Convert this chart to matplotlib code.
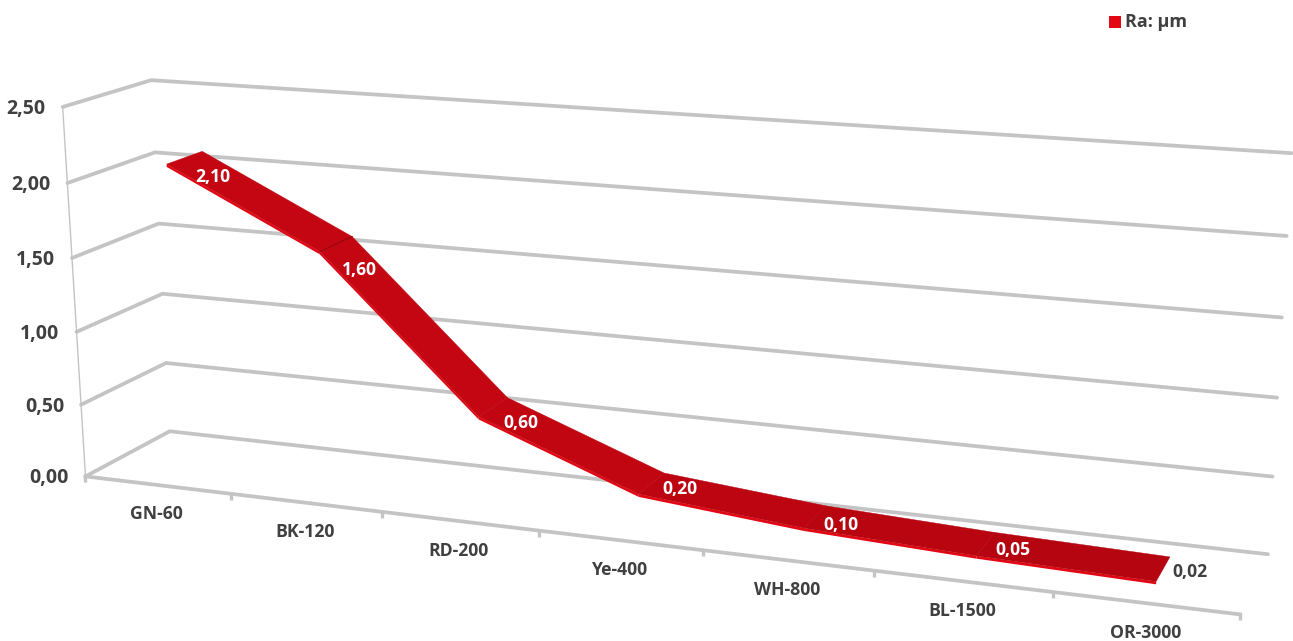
import numpy as np
import matplotlib
matplotlib.use("Agg")
from matplotlib import pyplot as plt

categories = ["GN-60", "BK-120", "RD-200", "Ye-400", "WH-800", "BL-1500", "OR-3000"]
ra_values = [2.10, 1.60, 0.60, 0.20, 0.10, 0.05, 0.02]
value_ticks = [0.0, 0.5, 1.0, 1.5, 2.0, 2.5]
legend_label = "Ra: µm"

W, H = 1293, 641
GRID = "#c4c4c4"
TEXT = "#404040"
RED = "#e30613"

# 3D box corners on screen: (category, value, depth) -> pixel
# depth 0 is the front of the floor, depth 1 the back wall
anchors = [
    ((0, 0, 0), (86, 475)), ((0, 2.5, 0), (63, 107)),
    ((0, 0, 1), (170, 431)), ((0, 2.5, 1), (151, 81)),
    ((0, 1, 0), (76, 330)), ((0, 1, 1), (162, 294)),
    ((7, 0, 0), (1240, 612)), ((7, 0, 1), (1268, 554)),
    ((7, 1, 1), (1277, 397)), ((7, 2, 1), (1287, 236)),
    ((3, 0, 0), (539, 534)), ((5, 0, 0), (874, 573)),
]


def fit_camera(pairs):
    rows, rhs = [], []
    for (c, v, d), (px, py) in pairs:
        rows.append([c, v, d, 1, 0, 0, 0, 0, -px * c, -px * v, -px * d])
        rhs.append(px)
        rows.append([0, 0, 0, 0, c, v, d, 1, -py * c, -py * v, -py * d])
        rhs.append(py)
    m = np.linalg.lstsq(np.array(rows, float), np.array(rhs, float), rcond=None)[0]
    return np.append(m, 1.0).reshape(3, 4)


CAM = fit_camera(anchors)


def project(c, v, d):
    c, v, d = np.broadcast_arrays(np.asarray(c, float), np.asarray(v, float), np.asarray(d, float))
    pts = CAM @ np.stack([c, v, d, np.ones_like(c)])
    return pts[0] / pts[2], pts[1] / pts[2]


plt.rcParams["font.family"] = ["Open Sans", "DejaVu Sans"]
fig = plt.figure(figsize=(W / 100, H / 100), dpi=100)
ax = fig.add_axes([0, 0, 1, 1])
ax.set_xlim(0, W)
ax.set_ylim(H, 0)
ax.axis("off")

# Walls: side wall then back wall for every value gridline
n = len(categories)
for v in value_ticks:
    xs, ys = project([0, 0, n], [v, v, v], [0, 1, 1])
    ax.plot(xs, ys, color=GRID, lw=2.7, solid_joinstyle="miter", solid_capstyle="round",
            zorder=1, clip_on=False)
    tx, ty = project(0, v, 0)
    ax.text(tx - 17, ty + 2, f"{v:.2f}".replace(".", ","), ha="right", va="center",
            fontsize=14, fontweight="bold", color=TEXT)

# Vertical axis and front edge of the floor
xs, ys = project([0, 0], [0, 2.5], [0, 0])
ax.plot(xs, ys, color=GRID, lw=1.0, zorder=1)
xs, ys = project([0, n], [0, 0], [0, 0])
ax.plot(xs, ys, color=GRID, lw=2.7, zorder=1)
for i in range(n + 1):
    tx, ty = project(i, 0, 0)
    ax.plot([tx, tx], [ty, ty + 6], color=GRID, lw=2.4, solid_capstyle="butt", zorder=1)

for i, name in enumerate(categories):
    tx, ty = project(i + 0.5, 0, 0)
    ax.text(tx - 0.5, ty + 29.5, name, ha="center", va="center",
            fontsize=12.7, fontweight="bold", color=TEXT)

# Ribbon for the series, one quad per segment with a thin lit edge in front
z0, z1 = 0.30, 0.72
centers = np.arange(n) + 0.5
fx, fy = project(centers, ra_values, z0)
bx, by = project(centers, ra_values, z1)
shades = ["#c40612", "#c30612", "#c10612", "#bc0511", "#b80510", "#b50510"]
for i in range(n - 1):
    ax.fill([fx[i], fx[i + 1], fx[i + 1], fx[i]], [fy[i], fy[i + 1], fy[i + 1] + 2.8, fy[i] + 2.8],
            color=RED, lw=0, zorder=2)
    ax.fill([fx[i], fx[i + 1], bx[i + 1], bx[i]], [fy[i], fy[i + 1], by[i + 1], by[i]],
            facecolor=shades[i], edgecolor=shades[i], lw=0.3, zorder=3)

# Crease where the first two segments meet
ax.plot([fx[1], bx[1]], [fy[1], by[1]], color="#8f0410", lw=0.7, zorder=3.5)

label_offsets = [(28, 19), (23, 26), (28, 16), (28, 6), (26, 8), (27, 6), (27, 3)]
for i, v in enumerate(ra_values):
    mx, my = project(centers[i], v, (z0 + z1) / 2)
    dx, dy = label_offsets[i]
    last = i == n - 1
    ax.text(mx + dx, my + dy, f"{v:.2f}".replace(".", ","), ha="center", va="center",
            fontsize=12.6, fontweight="bold", color=TEXT if last else "white", zorder=4)

# Legend
ax.scatter([1115], [22], marker="s", s=72, color=RED, linewidths=0)
ax.text(1125, 22, legend_label, ha="left", va="center", fontsize=13,
        fontweight="bold", color=TEXT)

fig.savefig("out.png", dpi=100)
